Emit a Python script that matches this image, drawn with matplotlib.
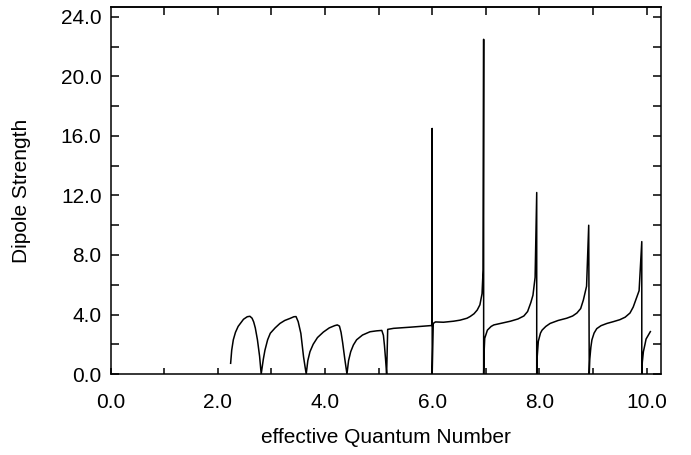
import numpy as np
import matplotlib.pyplot as plt

plt.rcParams['font.family'] = ['Liberation Sans', 'DejaVu Sans']

# low-n arcs
n_low = [2.24, 2.26, 2.29, 2.33, 2.38, 2.48, 2.55, 2.60, 2.64, 2.67, 2.70, 2.74, 2.78, 2.81,
         2.85, 2.88, 2.93, 2.98, 3.07, 3.16, 3.25, 3.35, 3.42, 3.46, 3.50, 3.55, 3.60, 3.63, 3.65,
         3.68, 3.72, 3.78, 3.86, 3.97, 4.08, 4.18, 4.23, 4.27, 4.30, 4.33, 4.37, 4.41,
         4.44, 4.48, 4.53, 4.59, 4.70, 4.84, 4.96, 5.06, 5.09, 5.11, 5.13, 5.15]
s_low = [0.72, 1.6, 2.3, 2.8, 3.2, 3.68, 3.85, 3.88, 3.75, 3.5, 3.1, 2.3, 1.2, 0.0,
         1.0, 1.6, 2.3, 2.74, 3.1, 3.4, 3.6, 3.74, 3.85, 3.86, 3.52, 2.73, 1.16, 0.45, 0.0,
         0.9, 1.5, 2.0, 2.45, 2.82, 3.1, 3.25, 3.3, 3.22, 2.8, 2.1, 1.0, 0.0,
         0.9, 1.5, 1.95, 2.3, 2.62, 2.84, 2.9, 2.93, 2.6, 1.9, 1.0, 0.0]

# flat part and resonance spikes
n_high = [5.17, 5.28, 5.60, 5.96, 6.00, 6.00, 6.00,
          6.02, 6.06, 6.21, 6.40, 6.52, 6.65, 6.71, 6.78, 6.84, 6.89, 6.93, 6.95, 6.96, 6.96,
          6.97, 6.98, 7.03, 7.10, 7.15, 7.30, 7.46, 7.60, 7.71, 7.78, 7.84, 7.88, 7.92, 7.95, 7.95,
          7.96, 7.98, 8.02, 8.05, 8.12, 8.20, 8.35, 8.51, 8.62, 8.70, 8.77, 8.82, 8.88, 8.92, 8.93,
          8.94, 8.96, 8.98, 9.02, 9.07, 9.15, 9.26, 9.38, 9.50, 9.60, 9.69, 9.75, 9.80, 9.86, 9.91, 9.91,
          9.92, 9.94, 9.97, 9.99, 10.03, 10.07]
s_high = [3.0, 3.07, 3.15, 3.25, 3.27, 16.5, 0.0,
          3.4, 3.5, 3.48, 3.55, 3.62, 3.75, 3.87, 4.05, 4.3, 4.65, 5.4, 7.0, 22.5, 0.0,
          1.6, 2.4, 2.95, 3.2, 3.3, 3.42, 3.55, 3.7, 3.9, 4.2, 4.8, 5.3, 6.5, 12.2, 0.0,
          1.2, 2.2, 2.75, 2.95, 3.2, 3.4, 3.6, 3.75, 3.9, 4.1, 4.4, 4.97, 5.9, 10.0, 0.0,
          1.0, 1.8, 2.3, 2.75, 3.05, 3.25, 3.4, 3.52, 3.65, 3.82, 4.1, 4.5, 5.0, 5.6, 8.9, 0.0,
          0.8, 1.5, 2.0, 2.35, 2.6, 2.85]

x_ticks = [0, 2, 4, 6, 8, 10]
y_ticks = [0, 4, 8, 12, 16, 20, 24]

fig = plt.figure(figsize=(6.91, 4.55), dpi=100)
ax = fig.add_axes([0.16, 0.178, 0.7967, 0.8066])

ax.plot(n_low + n_high, s_low + s_high, color='black', lw=1.1)

ax.set_xlim(0, 10.27)
ax.set_ylim(0, 24.67)
ax.set_xticks(x_ticks)
ax.set_xticklabels([f"{v:.1f}" for v in x_ticks])
ax.set_xticks(np.arange(1, 11, 2), minor=True)
ax.set_yticks(y_ticks)
ax.set_yticklabels([f"{v:.1f}" for v in y_ticks])
ax.set_yticks(np.arange(2, 24, 4), minor=True)

ax.tick_params(which='both', direction='in', labelsize=15, width=1.1)
ax.tick_params(axis='x', which='both', length=4.5, pad=14)
ax.tick_params(axis='y', which='both', length=6, right=True, pad=6.5)

top = ax.secondary_xaxis('top')
top.set_xticks(np.arange(1, 11))
top.tick_params(direction='in', length=5.5, width=1.1, labeltop=False)
top.spines['top'].set_linewidth(1.1)

for sp in ax.spines.values():
    sp.set_linewidth(1.1)

ax.set_xlabel('effective Quantum Number', fontsize=15)
ax.set_ylabel('Dipole Strength', fontsize=15)
ax.xaxis.set_label_coords(0.5, -0.172)
ax.xaxis.label.set_va('center')
ax.yaxis.set_label_coords(-0.161, 0.5)
ax.yaxis.label.set_va('center')

fig.savefig('out.png', dpi=100)
